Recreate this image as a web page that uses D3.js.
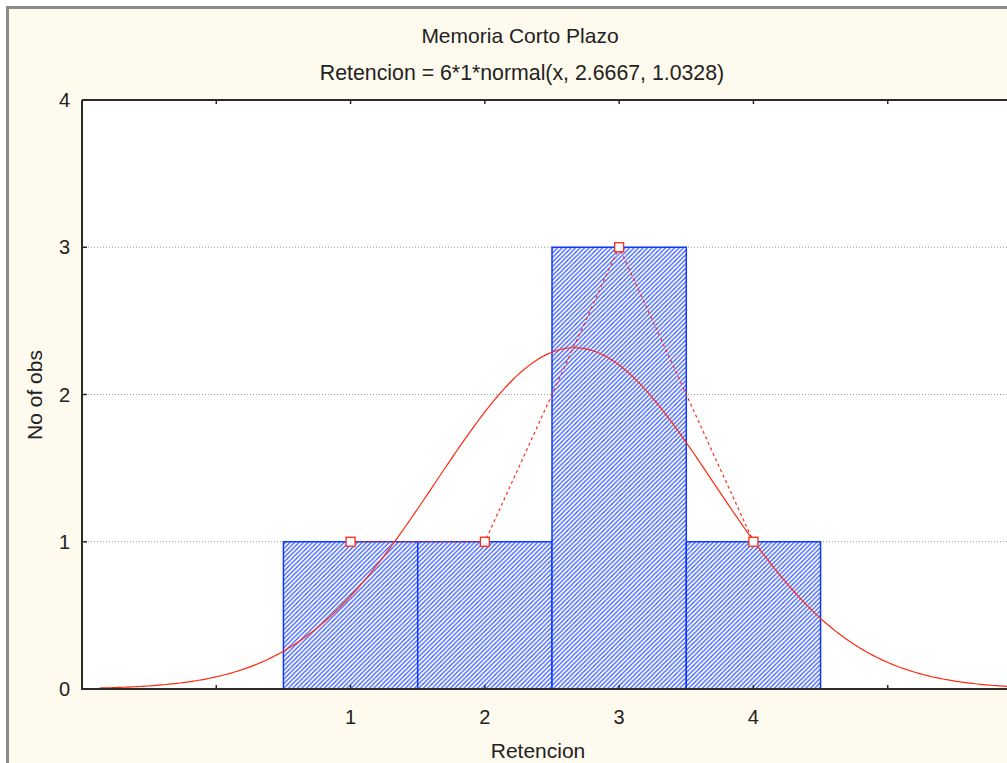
<!DOCTYPE html>
<html>
<head>
  <title>Memoria Corto Plazo</title>
  <script src="https://d3js.org/d3.v7.min.js"></script>
  <style>
    body { margin: 0; background: #fff; overflow: hidden; }
    text { font-family: "Liberation Sans", Arial, sans-serif; fill: #222; }
  </style>
</head>
<body>
  <svg id="chart"></svg>

  <script>
    // histogram data
    var categories = [1, 2, 3, 4];
    var counts = [1, 1, 3, 1];
    var yTicks = [0, 1, 2, 3, 4];
    var xTicks = [0, 1, 2, 3, 4, 5];
    var xTickLabels = ["", "1", "2", "3", "4", ""];
    // fitted normal: N * binWidth * normal(x, mean, sd)
    var fitN = 6, fitBin = 1, fitMean = 2.6667, fitSd = 1.0328;

    var width = 1007, height = 763;
    var margin = { left: 82, top: 100, right: -15, bottom: 74 };

    var svg = d3.select("#chart")
                .attr("width", width)
                .attr("height", height);

    // window frame
    svg.append("rect")
       .attr("x", 7).attr("y", 7)
       .attr("width", width).attr("height", height)
       .attr("fill", "#fffaee");
    svg.append("path")
       .attr("d", "M7.5," + height + "V7.5H" + width)
       .attr("stroke", "#8a8a8a").attr("stroke-width", 3).attr("fill", "none");

    var x = d3.scaleLinear().domain([-1, 6]).range([margin.left, width - margin.right]);
    var y = d3.scaleLinear().domain([0, 4]).range([height - margin.bottom - 0, margin.top]);

    // hatch pattern
    var defs = svg.append("defs");
    var hs = 4.5;
    var pat = defs.append("pattern")
                  .attr("id", "hatch")
                  .attr("patternUnits", "userSpaceOnUse")
                  .attr("width", hs).attr("height", hs);
    pat.append("rect").attr("width", hs).attr("height", hs).attr("fill", "#fff");
    pat.append("path")
       .attr("d", "M-1,1 L1,-1 M0," + hs + " L" + hs + ",0 M" + (hs - 1) + "," + (hs + 1) + " L" + (hs + 1) + "," + (hs - 1))
       .attr("stroke", "#2f55ff").attr("stroke-width", 1.25);

    defs.append("clipPath").attr("id", "plotClip")
        .append("rect")
        .attr("x", x(-1)).attr("y", y(4))
        .attr("width", x(6) - x(-1)).attr("height", y(0) - y(4));

    // plot background
    svg.append("rect")
       .attr("x", x(-1)).attr("y", y(4))
       .attr("width", x(6) - x(-1)).attr("height", y(0) - y(4))
       .attr("fill", "#fff");

    // grid lines
    svg.append("g")
       .selectAll("line")
       .data(yTicks.filter(d => d > 0 && d < 4))
       .enter().append("line")
       .attr("x1", x(-1)).attr("x2", x(6))
       .attr("y1", d => y(d)).attr("y2", d => y(d))
       .attr("stroke", "#999").attr("stroke-width", 1)
       .attr("stroke-dasharray", "1,2");

    // bars
    svg.append("g")
       .selectAll("rect")
       .data(categories)
       .enter().append("rect")
       .attr("x", d => x(d - 0.5))
       .attr("width", x(1.5) - x(0.5))
       .attr("y", (d, i) => y(counts[i]))
       .attr("height", (d, i) => y(0) - y(counts[i]))
       .attr("fill", "url(#hatch)")
       .attr("stroke", "#1038ff").attr("stroke-width", 1.5);

    // normal curve
    var curveX = d3.range(-0.87, 6.01, 0.02);
    var normal = function(v) {
      return fitN * fitBin * Math.exp(-0.5 * Math.pow((v - fitMean) / fitSd, 2)) / (fitSd * Math.sqrt(2 * Math.PI));
    };
    var line = d3.line().x(d => x(d)).y(d => y(normal(d)));
    svg.append("path")
       .datum(curveX)
       .attr("clip-path", "url(#plotClip)")
       .attr("d", line)
       .attr("fill", "none")
       .attr("stroke", "#ff2a10").attr("stroke-width", 1.2);

    // frequency polygon
    var poly = d3.line().x(d => x(d)).y((d, i) => y(counts[i]));
    svg.append("path")
       .datum(categories)
       .attr("d", poly)
       .attr("fill", "none")
       .attr("stroke", "#ff2a10").attr("stroke-width", 1.2)
       .attr("stroke-dasharray", "3,3");

    svg.append("g")
       .selectAll("rect")
       .data(categories)
       .enter().append("rect")
       .attr("x", d => x(d) - 4.5)
       .attr("y", (d, i) => y(counts[i]) - 4.5)
       .attr("width", 9).attr("height", 9)
       .attr("fill", "#fff")
       .attr("stroke", "#ff2a10").attr("stroke-width", 1.3);

    // axes
    var axisColor = "#2a2a2a";
    svg.append("path")
       .attr("d", "M" + x(-1) + "," + y(4) + "V" + y(0) + "H" + width +
                  "M" + x(-1) + "," + y(4) + "H" + width)
       .attr("stroke", axisColor).attr("stroke-width", 2).attr("fill", "none");

    // x ticks (inward, bottom and top)
    svg.append("g")
       .selectAll("path")
       .data(xTicks)
       .enter().append("path")
       .attr("d", d => "M" + x(d) + "," + y(0) + "v-4M" + x(d) + "," + y(4) + "v4")
       .attr("stroke", axisColor).attr("stroke-width", 1.5);

    // y ticks
    svg.append("g")
       .selectAll("path")
       .data(yTicks)
       .enter().append("path")
       .attr("d", d => "M" + x(-1) + "," + y(d) + "h5")
       .attr("stroke", axisColor).attr("stroke-width", 1.5);

    svg.append("g")
       .selectAll("text")
       .data(xTicks)
       .enter().append("text")
       .attr("x", d => x(d))
       .attr("y", y(0) + 35)
       .attr("text-anchor", "middle")
       .attr("font-size", 20)
       .text((d, i) => xTickLabels[i]);

    svg.append("g")
       .selectAll("text")
       .data(yTicks)
       .enter().append("text")
       .attr("x", x(-1) - 12)
       .attr("y", d => y(d) + 7)
       .attr("text-anchor", "end")
       .attr("font-size", 20)
       .text(d => d);

    // titles
    svg.append("text")
       .attr("x", 520).attr("y", 43)
       .attr("text-anchor", "middle").attr("font-size", 21)
       .text("Memoria Corto Plazo");
    svg.append("text")
       .attr("x", 522).attr("y", 80)
       .attr("text-anchor", "middle").attr("font-size", 21.3)
       .text("Retencion = 6*1*normal(x, 2.6667, 1.0328)");

    svg.append("text")
       .attr("x", 538).attr("y", 758)
       .attr("text-anchor", "middle").attr("font-size", 21)
       .text("Retencion");
    svg.append("text")
       .attr("transform", "translate(42,395) rotate(-90)")
       .attr("text-anchor", "middle").attr("font-size", 21)
       .text("No of obs");
  </script>
</body>
</html>
